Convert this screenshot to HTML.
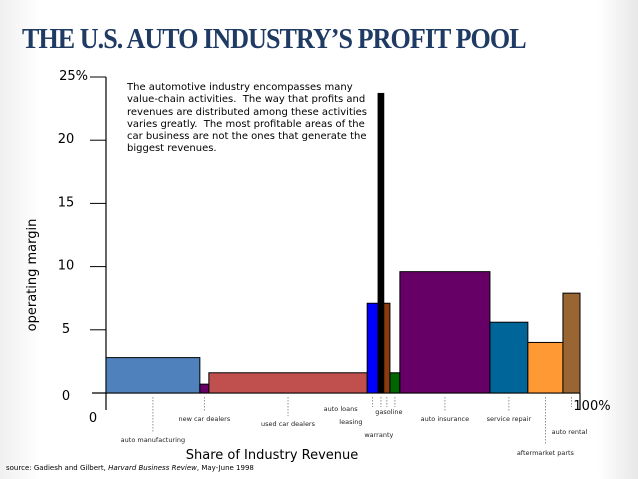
<!DOCTYPE html>
<html><head><meta charset="utf-8"><style>
html,body{margin:0;padding:0}
body{width:638px;height:479px;overflow:hidden;background:linear-gradient(90deg,#f0f0f0 0,#fff 40px,#fff 598px,#e8e8e8 638px);font-family:"Liberation Sans",sans-serif;position:relative}
#title{position:absolute;left:22px;top:24px;font-family:"Liberation Serif",serif;font-weight:bold;font-size:28px;color:#1f3b64;letter-spacing:-1px;transform:scaleX(0.93);transform-origin:left}
#note{position:absolute;left:127px;top:82px;font-family:"DejaVu Sans",sans-serif;font-size:10px;line-height:12.3px;color:#000;width:245px}
#src{position:absolute;left:6px;top:464px;font-family:"DejaVu Sans",sans-serif;font-size:7px;color:#000}
</style></head><body>
<div id="title">THE U.S. AUTO INDUSTRY’S PROFIT POOL</div>
<div id="note">The automotive industry encompasses many value-chain activities.&nbsp; The way that profits and revenues are distributed among these activities varies greatly.&nbsp; The most profitable areas of the car business are not the ones that generate the biggest revenues.</div>
<div id="src">source: Gadiesh and Gilbert, <i>Harvard Business Review</i>, May-June 1998</div>
<svg id="chart" width="638" height="479" style="position:absolute;left:0;top:0"></svg>
<script>
const categories=["auto manufacturing","new car dealers","used car dealers","auto loans","leasing","warranty","gasoline","auto insurance","service repair","aftermarket parts","auto rental"];
const shares=[19.8,1.9,33.4,2.3,1.2,1.3,2.1,19.0,8.0,7.4,3.6];
const margins=[2.8,0.7,1.6,7.1,23.7,7.1,1.6,9.6,5.6,4.0,7.9];
const colors=["#4f81bd","#660066","#c0504d","#0000ff","#000000","#8b3a0f","#006400","#660066","#006699","#ff9933","#996633"];
const yTicks=[0,5,10,15,20,25];
const yTickLabels=["0","5","10","15","20","25%"];
const labelY=[442,421,426,411,424,437,414,421,421,455,434];
const labelDx=[0,0,0,-32,-30,-8,-6,0,0,0,-2];
const NS="http://www.w3.org/2000/svg";
const svg=document.getElementById('chart');
const X0=106,X1=580,Y0=393,YT=77;
const xs=p=>X0+(X1-X0)*p/100;
const ys=v=>Y0-(Y0-YT)*v/25;
function mk(t,a){const e=document.createElementNS(NS,t);for(const k in a)e.setAttribute(k,a[k]);svg.appendChild(e);return e;}
let ax=mk('line',{x1:X0,y1:YT,x2:X0,y2:Y0,stroke:'#000','stroke-width':1.2});


let bx=mk('line',{x1:92,y1:Y0,x2:X1,y2:Y0,stroke:'#000','stroke-width':1.2});


let t0=mk('line',{x1:X0,y1:Y0,x2:X0,y2:410,stroke:'#000','stroke-width':1.2});


let t1=mk('line',{x1:X1,y1:Y0,x2:X1,y2:410,stroke:'#000','stroke-width':1.2});


yTicks.forEach((v,i)=>{
 if(v>0){const l=mk('line',{x1:90,y1:ys(v),x2:X0,y2:ys(v),stroke:'#000','stroke-width':1});
 
 }
 const t=mk('text',{x:v==25?88:66,y:(v==0?ys(v)+4:ys(v))+3,'font-size':13,'text-anchor':v==25?'end':'middle','font-family':'DejaVu Sans, sans-serif'});
 t.textContent=yTickLabels[i];
 
 
});
const x0l=mk('text',{x:93,y:422,'font-size':13,'text-anchor':'middle','font-family':'DejaVu Sans, sans-serif'});x0l.textContent='0';


const x1l=mk('text',{x:592,y:410,'font-size':13,'text-anchor':'middle','font-family':'DejaVu Sans, sans-serif'});x1l.textContent='100%';


let cum=0;
categories.forEach((c,i)=>{
 const a=xs(cum),b=xs(cum+shares[i]);cum+=shares[i];
 const r=mk('rect',{x:a,y:ys(margins[i]),width:b-a,height:Y0-ys(margins[i]),fill:colors[i],stroke:'#000','stroke-width':1});
 
 
 const m=(a+b)/2;
 const ln=mk('line',{x1:m,y1:Y0+4,x2:m,y2:labelDx[i]?Y0+14:labelY[i]-10,stroke:'#777','stroke-width':0.8,'stroke-dasharray':'1.5,1.5'});
 
 
 const t=mk('text',{x:m+labelDx[i],y:labelY[i],'font-size':6.5,'text-anchor':'middle',fill:'#222','font-family':'DejaVu Sans, sans-serif'});
 t.textContent=c;
 
 
});
const xt=mk('text',{x:272,y:459,'font-size':13,'text-anchor':'middle','font-family':'DejaVu Sans, sans-serif'});xt.textContent='Share of Industry Revenue';


const yt=mk('text',{x:0,y:0,'font-size':13,'text-anchor':'middle',transform:'translate(36,275) rotate(-90)','font-family':'DejaVu Sans, sans-serif'});yt.textContent='operating margin';


</script>
</body></html>
